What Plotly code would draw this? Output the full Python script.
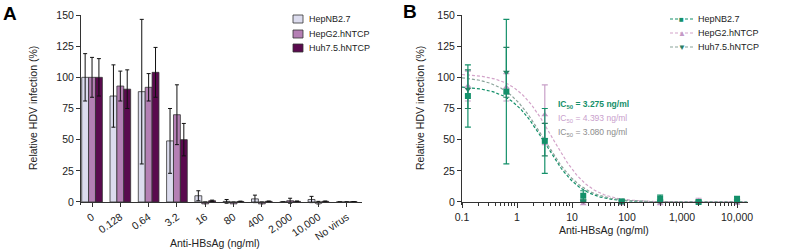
import numpy as np
import plotly.graph_objects as go

# ---------------- data ----------------
categories = ["0", "0.128", "0.64", "3.2", "16", "80", "400", "2,000", "10,000", "No virus"]
series_names = ["HepNB2.7", "HepG2.hNTCP", "Huh7.5.hNTCP"]

hepnb_vals = [100, 85, 88.5, 49, 5, 0.5, 2.5, 0, 2, 0]
hepnb_err = [19, 25, 58, 26, 4, 1.5, 3, 0, 2.5, 0]
hepg2_vals = [100, 93, 92, 70, -1.5, -1.5, -1.5, 1, -1, 0]
hepg2_err = [16, 12, 11, 24, 1.5, 1.5, 1.5, 2, 1.5, 0]
huh_vals = [100, 90.5, 104, 50, 1, 0.4, 0.5, 0.5, 0.5, 0.3]
huh_err = [15, 15.5, 20, 13, 0.5, 0.3, 0.3, 0.3, 0.3, 0]

# panel B uses the antibody concentrations (ng/ml), excluding "0" and "No virus"
conc = [0.128, 0.64, 3.2, 16, 80, 400, 2000, 10000]

# fitted dose-response parameters (top, bottom, IC50, Hill slope)
fit_top = [93, 103, 101]
fit_bottom = [0, 0, 0]
ic50 = [3.275, 4.393, 3.080]
hill = [1.35, 1.3, 1.25]
ic50_axis_marks = [3.080, 3.275]

x_tickvals_b = [0.1, 1, 10, 100, 1000, 10000]
x_ticktext_b = ["0.1", "1", "10", "100", "1,000", "10,000"]
y_ticks = [0, 25, 50, 75, 100, 125, 150]

# ---------------- styles ----------------
FONT = "Arial, Liberation Sans, sans-serif"
AX = "#333333"
bar_colors = ["#dcdcee", "#b47fb4", "#5a0a4e"]
b_marker_colors = ["#14906a", "#c49ac6", "#2a7d62"]
b_err_colors = ["#14906a", "#c8a0c8", "#2a7d62"]
b_line_colors = ["#14906a", "#d3a3c9", "#8aa39a"]
b_symbols = ["square", "triangle-up", "triangle-down"]
ic50_text_colors = ["#14906a", "#c9a0cc", "#8c8c8c"]
DASH = "3px,2px"

W, H = 787, 251
def px(x):
    return x / W
def py(y):
    return 1 - y / H

y_range = [-2.5, 150]
y_dom = [py(205.1), py(15)]
zero_pos = py(202)

fig = go.Figure()

# ---------------- panel A: bars ----------------
vals_all = [hepnb_vals, hepg2_vals, huh_vals]
errs_all = [hepnb_err, hepg2_err, huh_err]
for i in range(3):
    fig.add_trace(go.Bar(
        x=list(range(len(categories))), y=vals_all[i], name=series_names[i],
        marker=dict(color=bar_colors[i], line=dict(color=AX, width=0.8)),
        error_y=dict(type="data", array=errs_all[i], visible=True,
                     color="#111111", thickness=1, width=2),
        xaxis="x", yaxis="y", showlegend=False,
    ))

# ---------------- panel B: points and fits ----------------
xfit = np.logspace(-1, 4.19, 300)
for i in range(3):
    yfit = fit_bottom[i] + (fit_top[i] - fit_bottom[i]) / (1 + (xfit / ic50[i]) ** hill[i])
    fig.add_trace(go.Scatter(
        x=xfit, y=yfit, mode="lines", xaxis="x2", yaxis="y2", showlegend=False,
        line=dict(color=b_line_colors[i], width=1.2, dash=DASH), hoverinfo="skip",
    ))
for i in [1, 2, 0]:
    fig.add_trace(go.Scatter(
        x=conc, y=vals_all[i][1:9], mode="markers", xaxis="x2", yaxis="y2",
        showlegend=False, cliponaxis=False,
        marker=dict(symbol=b_symbols[i], size=6, color=b_marker_colors[i]),
        error_y=dict(type="data", array=errs_all[i][1:9], visible=True,
                     color=b_err_colors[i], thickness=1.2, width=3),
    ))
# IC50 marks on the axis
fig.add_trace(go.Scatter(
    x=ic50_axis_marks, y=[-3.3] * len(ic50_axis_marks), mode="markers",
    xaxis="x2", yaxis="y2", showlegend=False, cliponaxis=False,
    marker=dict(symbol="line-ns-open", size=8, line=dict(color="#444444", width=2)),
))

# ---------------- axes ----------------
axis_common = dict(showgrid=False, zeroline=False, showline=True, linecolor=AX,
                   linewidth=1, ticks="outside", tickcolor=AX, tickwidth=1,
                   automargin=False,
                   tickfont=dict(family=FONT, size=10.5, color="#222222"))

fig.update_layout(
    width=W, height=H, margin=dict(l=0, r=0, t=0, b=0, autoexpand=False),
    paper_bgcolor="white", plot_bgcolor="white",
    barmode="group", bargap=0.27, bargroupgap=0,
    showlegend=False,
    font=dict(family=FONT, color="#222222"),
    xaxis=dict(**axis_common, domain=[px(81), px(362)], range=[-0.39, 9.54],
               tickvals=list(range(len(categories))), ticktext=categories,
               tickangle=-35, ticklen=4, anchor="free", position=zero_pos),
    yaxis=dict(**axis_common, domain=y_dom, range=y_range, tickvals=y_ticks,
               ticklen=4, anchor="x"),
    xaxis2=dict(**axis_common, type="log", domain=[px(462), px(747.5)],
                range=[-1.0, 4.19], tickvals=x_tickvals_b, ticktext=x_ticktext_b,
                ticklen=5, anchor="free", position=zero_pos,
                minor=dict(ticks="outside", ticklen=3, tickcolor=AX,
                           tickvals=[d * 10.0 ** k for k in range(-1, 4) for d in range(2, 10)])),
    yaxis2=dict(**axis_common, domain=y_dom, range=y_range, tickvals=y_ticks,
                ticklen=4, anchor="x2"),
)

ann = []
def text(x, y, s, size=10.5, color="#222222", xanchor="center", yanchor="middle", angle=0, bold=False):
    ann.append(dict(x=px(x), y=py(y), xref="paper", yref="paper", text=f"<b>{s}</b>" if bold else s,
                    showarrow=False, xanchor=xanchor, yanchor=yanchor, textangle=angle,
                    font=dict(family=FONT, size=size, color=color)))

# panel letters
text(1, 14, "A", size=19, color="#000000", xanchor="left", bold=True)
text(401, 12, "B", size=19, color="#000000", xanchor="left", bold=True)
# axis titles
text(33, 108, "Relative HDV infection (%)", size=10.5, angle=-90)
text(420, 108, "Relative HDV infection (%)", size=10.5, angle=-90)
text(215, 243, "Anti-HBsAg (ng/ml)", size=10.5)
text(604, 230, "Anti-HBsAg (ng/ml)", size=10.5)

shapes = []
# legend A
leg_y = [19, 34, 48]
for i in range(3):
    shapes.append(dict(type="rect", xref="paper", yref="paper",
                       x0=px(293), x1=px(303), y0=py(leg_y[i] + 4), y1=py(leg_y[i] - 4),
                       fillcolor=bar_colors[i], line=dict(color=AX, width=0.8)))
    text(307, leg_y[i], series_names[i], size=9, xanchor="left")
# legend B
legb_y = [19, 33, 47]
legb_glyph = ["■", "▲", "▼"]
for i in range(3):
    shapes.append(dict(type="line", xref="paper", yref="paper",
                       x0=px(670), x1=px(693), y0=py(legb_y[i]), y1=py(legb_y[i]),
                       line=dict(color=b_line_colors[i], width=1.2, dash=DASH)))
    text(681.5, legb_y[i], legb_glyph[i], size=8, color=b_marker_colors[i])
    text(696, legb_y[i], series_names[i], size=9, xanchor="left")

# IC50 labels
ic_y = [104, 118, 132]
for i in range(3):
    s = f"IC<sub>50</sub> = {ic50[i]:.3f} ng/ml"
    text(556, ic_y[i], s, size=8.5, color=ic50_text_colors[i], xanchor="left", bold=(i == 0))

fig.update_layout(annotations=ann, shapes=shapes)
fig.write_html("out.html", config={"displayModeBar": False},
               post_script="document.body.style.margin='0px';")
